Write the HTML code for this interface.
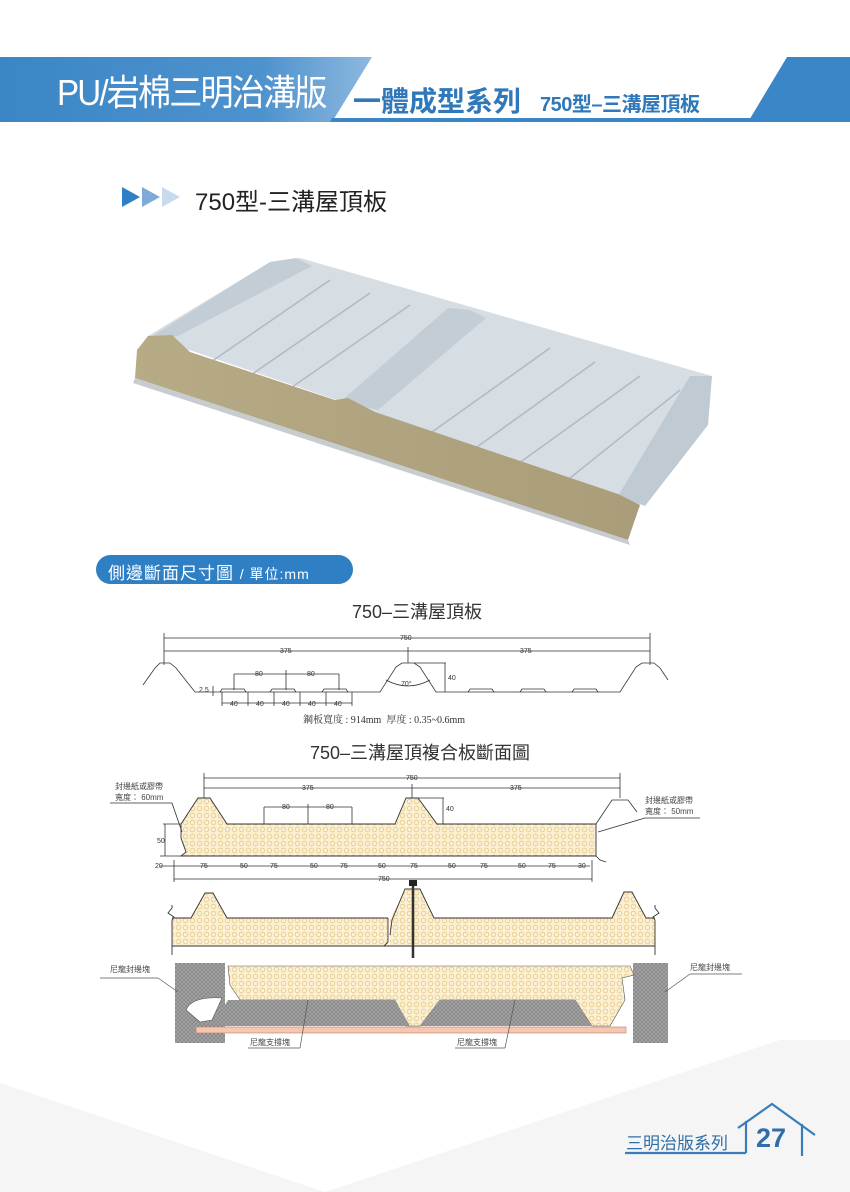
<!DOCTYPE html>
<html><head><meta charset="utf-8">
<style>
html,body{margin:0;padding:0;background:#fff;}
body{width:850px;height:1192px;position:relative;overflow:hidden;font-family:"Liberation Sans","Noto Sans CJK TC",sans-serif;}
.abs{position:absolute;white-space:nowrap;}
</style></head><body>
<svg width="850" height="1192" viewBox="0 0 850 1192" xmlns="http://www.w3.org/2000/svg" style="position:absolute;left:0;top:0">
<defs>
<linearGradient id="hb" x1="0" x2="1" y1="0" y2="0"><stop offset="0" stop-color="#3b86c6"/><stop offset="0.7" stop-color="#4d92cd"/><stop offset="1" stop-color="#8db8df"/></linearGradient>
<pattern id="foam" width="7" height="7" patternUnits="userSpaceOnUse"><rect width="7" height="7" fill="#fbf0d2"/><circle cx="3.5" cy="3.5" r="2.3" fill="none" stroke="#e8c88a" stroke-width="0.8"/></pattern>
<pattern id="grey" width="4" height="4" patternUnits="userSpaceOnUse"><rect width="4" height="4" fill="#a4a4a4"/><path d="M0 4L4 0M0 0L4 4" stroke="#7d7d7d" stroke-width="0.6"/></pattern>
<linearGradient id="rock" x1="0" x2="1"><stop offset="0" stop-color="#b7ab86"/><stop offset="1" stop-color="#a99d7a"/></linearGradient>
</defs>
<polygon points="0,1083 325,1192 780,1040 850,1040 850,1192 0,1192" fill="#f5f5f5"/>
<!-- header -->
<polygon points="0,57 372,57 332,122 0,122" fill="url(#hb)"/>
<polygon points="332,118 760,118 758,122 330,122" fill="#3b86c6"/>
<polygon points="787,57 850,57 850,122 748,122" fill="#3b86c6"/>

<polygon points="122,187 140,197 122,207" fill="#2e7fc4"/>
<polygon points="142,187 160,197 142,207" fill="#7faad8"/>
<polygon points="162,187 180,197 162,207" fill="#c9daef"/>

<!-- product 3D panel -->
<polygon points="148,336 270,262 300,258 712,376 706,425 640,505 620,496" fill="#d6dde3"/>
<polygon points="146,340 178,336 312,266 296,258 270,262" fill="#c3cdd5"/>
<polygon points="340,402 378,410 486,318 470,310 448,308" fill="#c3cdd5"/>
<polygon points="618,496 645,506 708,425 712,376 690,376" fill="#c0cad2"/>
<g stroke="#b0bac2" stroke-width="1.5">
<line x1="205" y1="366" x2="330" y2="280"/><line x1="245" y1="379" x2="370" y2="293"/><line x1="285" y1="392" x2="410" y2="305"/>
<line x1="425" y1="437" x2="550" y2="348"/><line x1="470" y1="452" x2="595" y2="362"/><line x1="515" y1="466" x2="640" y2="376"/><line x1="565" y1="482" x2="680" y2="390"/>
</g>
<polygon points="137,350 148,336 172,335 190,352 335,400 348,398 375,412 618,494 640,505 628,540 135,378" fill="url(#rock)"/>
<polygon points="135,378 628,540 630,545 133,383" fill="#c6ccd0"/>

<rect x="96" y="555" width="257" height="29" rx="14.5" fill="#2e7fc4"/>

<!-- diagram 1 -->
<g stroke="#333" stroke-width="0.8" fill="none">
<line x1="164" y1="638" x2="650" y2="638"/><line x1="164" y1="633" x2="164" y2="665"/><line x1="650" y1="633" x2="650" y2="665"/>
<line x1="164" y1="651" x2="650" y2="651"/><line x1="408" y1="647" x2="408" y2="663"/>
<path d="M143,685 L155,668 L160,663 L170,663 L176,668 L195,692 L380,692 L396,667 L402,663 L414,663 L420,667 L436,692 L620,692 L636,667 L642,663 L654,663 L660,668 L668,680"/>
<path d="M220,692 l2,-3 h22 l2,3 M270,692 l2,-3 h22 l2,3 M322,692 l2,-3 h22 l2,3 M468,692 l2,-3 h22 l2,3 M520,692 l2,-3 h22 l2,3 M572,692 l2,-3 h22 l2,3"/>
<line x1="234" y1="674" x2="339" y2="674"/><line x1="234" y1="674" x2="234" y2="690"/><line x1="286" y1="670" x2="286" y2="690"/><line x1="339" y1="674" x2="339" y2="690"/>
<line x1="222" y1="703" x2="352" y2="703"/>
<line x1="222" y1="692" x2="222" y2="706"/><line x1="248" y1="692" x2="248" y2="706"/><line x1="274" y1="692" x2="274" y2="706"/><line x1="300" y1="692" x2="300" y2="706"/><line x1="326" y1="692" x2="326" y2="706"/><line x1="352" y1="692" x2="352" y2="706"/>
<line x1="414" y1="663" x2="446" y2="663"/><line x1="445" y1="663" x2="445" y2="692"/>
<path d="M386,680 Q408,692 430,680"/>
<line x1="213" y1="686" x2="213" y2="696"/>
</g>
<g font-size="7" fill="#333">
<text x="400" y="640">750</text><text x="280" y="653">375</text><text x="520" y="653">375</text>
<text x="255" y="676">80</text><text x="307" y="676">80</text>
<text x="230" y="706">40</text><text x="256" y="706">40</text><text x="282" y="706">40</text><text x="308" y="706">40</text><text x="334" y="706">40</text>
<text x="448" y="680">40</text><text x="401" y="686">70°</text><text x="199" y="692">2.5</text>
</g>

<!-- diagram 2 -->
<path d="M181,824 L181,838 L186,852 L181,856 L596,856 L596,824 L437,824 L418,798 L406,798 L395,824 L227,824 L210,798 L198,798 Z" fill="url(#foam)" stroke="#333" stroke-width="0.9"/>
<g stroke="#333" stroke-width="0.8" fill="none">
<path d="M596,824 L612,800 L628,800 L637,812"/>
<path d="M596,856 L600,860 L606,862"/>
<line x1="204" y1="778" x2="620" y2="778"/><line x1="204" y1="773" x2="204" y2="798"/><line x1="620" y1="773" x2="620" y2="798"/>
<line x1="204" y1="788" x2="620" y2="788"/><line x1="412" y1="784" x2="412" y2="798"/>
<line x1="264" y1="807" x2="352" y2="807"/><line x1="264" y1="807" x2="264" y2="824"/><line x1="308" y1="804" x2="308" y2="824"/><line x1="352" y1="807" x2="352" y2="824"/>
<line x1="418" y1="798" x2="444" y2="798"/><line x1="443" y1="798" x2="443" y2="824"/>
<line x1="163" y1="824" x2="181" y2="824"/><line x1="160" y1="856" x2="181" y2="856"/><line x1="165" y1="824" x2="165" y2="856"/>
<line x1="160" y1="866" x2="590" y2="866"/><line x1="174" y1="879" x2="592" y2="879"/><line x1="174" y1="860" x2="174" y2="882"/><line x1="592" y1="860" x2="592" y2="882"/>
<line x1="110" y1="803" x2="172" y2="803"/><line x1="172" y1="803" x2="182" y2="832"/>
<line x1="598" y1="832" x2="645" y2="818"/><line x1="645" y1="818" x2="700" y2="818"/>
</g>
<g font-size="7" fill="#333">
<text x="406" y="780">750</text><text x="302" y="790">375</text><text x="510" y="790">375</text>
<text x="282" y="809">80</text><text x="326" y="809">80</text><text x="446" y="811">40</text>
<text x="157" y="843">50</text><text x="155" y="868">20</text>
<text x="200" y="868">75</text><text x="240" y="868">50</text><text x="270" y="868">75</text><text x="310" y="868">50</text><text x="340" y="868">75</text><text x="378" y="868">50</text><text x="410" y="868">75</text><text x="448" y="868">50</text><text x="480" y="868">75</text><text x="518" y="868">50</text><text x="548" y="868">75</text><text x="578" y="868">30</text>
<text x="378" y="881">750</text>
</g>
<path d="M172,918 L191,918 L205,893 L213,893 L227,918 L388,918 L388,946 L172,946 Z" fill="url(#foam)"/>
<path d="M390,946 L390,920 L405,889 L420,889 L434,918 L612,918 L624,892 L632,892 L646,918 L655,918 L655,946 Z" fill="url(#foam)"/>
<g stroke="#333" stroke-width="0.9" fill="none">
<path d="M172,918 L191,918 L205,893 L213,893 L227,918 L388,918"/>
<path d="M390,935 L392,920 L405,889 L420,889 L434,918 L612,918 L624,892 L632,892 L646,918 L655,918"/>
<path d="M388,918 L388,942 L384,946"/>
<line x1="172" y1="946" x2="655" y2="946"/>
<path d="M172,905 L172,908 L168,913 L174,917 L172,920 L172,955"/>
<path d="M655,905 L655,908 L659,913 L653,917 L655,920 L655,955"/>
</g>
<line x1="413" y1="882" x2="413" y2="958" stroke="#333" stroke-width="2.5"/>
<rect x="409" y="880" width="8" height="6" fill="#222"/>

<!-- diagram 3 -->
<rect x="175" y="963" width="50" height="80" fill="url(#grey)"/>
<path d="M186,1010 Q192,996 222,998 L212,1020 L200,1022 Z" fill="#fff" stroke="#555" stroke-width="0.6"/>
<rect x="633" y="963" width="35" height="80" fill="url(#grey)"/>
<path d="M228,966 L630,966 L634,975 L622,978 L625,1000 L610,1026 L592,1026 L575,1000 L440,1000 L420,1026 L406,1026 L395,1000 L240,1000 L230,985 Z" fill="url(#foam)" stroke="#555" stroke-width="0.6"/>
<path d="M228,1000 L395,1000 L410,1026 L212,1026 Z" fill="url(#grey)"/>
<path d="M440,1000 L575,1000 L592,1026 L420,1026 Z" fill="url(#grey)"/>
<rect x="196" y="1027" width="430" height="6" fill="#f3c7b3" stroke="#c77a5a" stroke-width="0.6"/>
<g stroke="#555" stroke-width="0.7" fill="none">
<line x1="100" y1="978" x2="158" y2="978"/><line x1="158" y1="978" x2="178" y2="992"/>
<line x1="690" y1="974" x2="742" y2="974"/><line x1="690" y1="974" x2="665" y2="992"/>
<line x1="248" y1="1048" x2="300" y2="1048"/><line x1="300" y1="1048" x2="308" y2="1000"/>
<line x1="455" y1="1048" x2="505" y2="1048"/><line x1="505" y1="1048" x2="515" y2="1000"/>
</g>

<g stroke="#3a7db8" stroke-width="2.2" fill="none">
<line x1="625" y1="1153" x2="746" y2="1153"/>
<line x1="746" y1="1153" x2="746" y2="1121"/>
<polyline points="738,1128 772,1104 815,1135"/>
<line x1="802" y1="1124" x2="802" y2="1156"/>
</g>
</svg>

<div class="abs" style="left:57px;top:64px;font-size:36px;color:#fff;letter-spacing:-2px;transform:scaleX(0.92);transform-origin:left;">PU/岩棉三明治溝版</div>
<div class="abs" style="left:353px;top:80px;font-size:28px;font-weight:bold;color:#2f78b9;">一體成型系列</div>
<div class="abs" style="left:540px;top:88px;font-size:20px;font-weight:bold;color:#2f78b9;letter-spacing:-0.5px;">750型–三溝屋頂板</div>
<div class="abs" style="left:195px;top:182px;font-size:24px;color:#222;">750型-三溝屋頂板</div>
<div class="abs" style="left:108px;top:559px;font-size:17px;color:#fff;letter-spacing:1px;">側邊斷面尺寸圖 <span style="font-size:14px">/ 單位:mm</span></div>
<div class="abs" style="left:352px;top:598px;font-size:18px;color:#333;">750–三溝屋頂板</div>
<div class="abs" style="left:303px;top:711px;font-size:10px;color:#333;font-family:'Liberation Serif','Noto Serif CJK SC',serif;">鋼板寬度 : 914mm &nbsp;厚度 : 0.35~0.6mm</div>
<div class="abs" style="left:310px;top:739px;font-size:18px;color:#333;">750–三溝屋頂複合板斷面圖</div>
<div class="abs" style="left:115px;top:781px;font-size:8px;color:#444;line-height:11px;">封邊紙或膠帶<br>寬度： 60mm</div>
<div class="abs" style="left:645px;top:795px;font-size:8px;color:#444;line-height:11px;">封邊紙或膠帶<br>寬度： 50mm</div>
<div class="abs" style="left:110px;top:964px;font-size:8px;color:#444;">尼龍封邊塊</div>
<div class="abs" style="left:690px;top:962px;font-size:8px;color:#444;">尼龍封邊塊</div>
<div class="abs" style="left:250px;top:1037px;font-size:8px;color:#444;">尼龍支撐塊</div>
<div class="abs" style="left:457px;top:1037px;font-size:8px;color:#444;">尼龍支撐塊</div>
<div class="abs" style="left:626px;top:1129px;font-size:17px;color:#2f6fa8;">三明治版系列</div>
<div class="abs" style="left:756px;top:1123px;font-size:27px;font-weight:bold;color:#2f6fa8;">27</div>
</body></html>
